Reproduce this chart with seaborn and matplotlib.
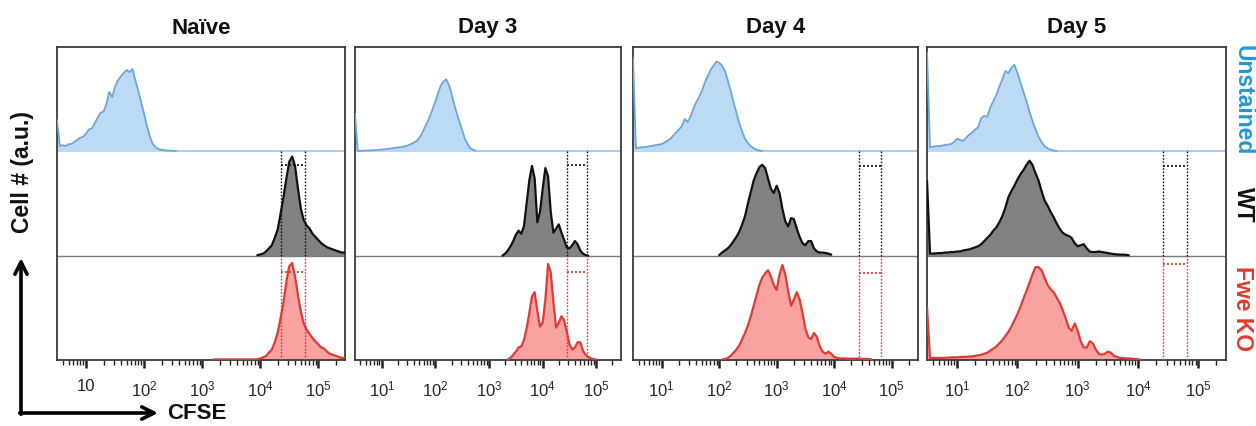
import numpy as np
import matplotlib
matplotlib.use("Agg")
import matplotlib.pyplot as plt
import seaborn as sns

# ---------------- data ----------------
PANELS = ["Naïve", "Day 3", "Day 4", "Day 5"]
CONDITIONS = ["Unstained", "WT", "Fwe KO"]
BIN_STEP = 0.05  # histogram bin width in log10(CFSE)

# each histogram: first bin (log10 CFSE) and cell counts, normalised to the row height
NAIVE_UNST_START = 0.50
NAIVE_UNST = [0.30, 0.05, 0.06, 0.05, 0.07, 0.07, 0.09, 0.11, 0.13, 0.14, 0.17, 0.21, 0.22, 0.27,
              0.32, 0.37, 0.38, 0.45, 0.57, 0.52, 0.62, 0.68, 0.72, 0.75, 0.78, 0.76, 0.79, 0.68,
              0.58, 0.47, 0.36, 0.24, 0.14, 0.07, 0.04, 0.02, 0.015, 0.01, 0.008, 0.006, 0.005, 0.003]
NAIVE_WT_START = 3.95
NAIVE_WT = [0.005, 0.012, 0.02, 0.04, 0.07, 0.10, 0.17, 0.25, 0.40, 0.56, 0.74, 0.90, 0.95, 0.86,
            0.64, 0.45, 0.34, 0.29, 0.26, 0.21, 0.18, 0.15, 0.12, 0.10, 0.08, 0.07, 0.06, 0.05,
            0.04, 0.03, 0.03]
NAIVE_KO_START = 3.20
NAIVE_KO = [0.006, 0.006, 0.006, 0.006, 0.006, 0.006, 0.006, 0.006, 0.006, 0.006, 0.006, 0.006,
            0.006, 0.006, 0.006, 0.006,
            0.015, 0.025, 0.04, 0.07, 0.10, 0.17, 0.26, 0.40, 0.55, 0.75, 0.90, 0.93, 0.80, 0.62,
            0.46, 0.35, 0.29, 0.25, 0.21, 0.18, 0.15, 0.12, 0.11, 0.08, 0.06, 0.05, 0.04, 0.03,
            0.02, 0.02]

DAY3_UNST_START = 0.50
DAY3_UNST = [0.36, 0.005, 0.005, 0.006, 0.007, 0.008, 0.01, 0.01, 0.012, 0.014, 0.016, 0.02, 0.022,
             0.025, 0.03, 0.033, 0.037, 0.04, 0.045, 0.05, 0.06, 0.07, 0.085, 0.10, 0.13, 0.17,
             0.23, 0.28, 0.34, 0.41, 0.48, 0.56, 0.63, 0.67, 0.69, 0.64, 0.55, 0.45, 0.36, 0.28,
             0.20, 0.12, 0.07, 0.03, 0.015, 0.005]
DAY3_WT_START = 3.25
DAY3_WT = [0.0, 0.02, 0.05, 0.09, 0.14, 0.20, 0.24, 0.21, 0.28, 0.50, 0.72, 0.86, 0.74, 0.32, 0.42,
           0.64, 0.84, 0.76, 0.42, 0.22, 0.26, 0.30, 0.22, 0.15, 0.08, 0.07, 0.10, 0.14, 0.11,
           0.05, 0.02, 0.005, 0.0]
DAY3_KO_START = 3.35
DAY3_KO = [0.005, 0.02, 0.05, 0.08, 0.12, 0.13, 0.19, 0.30, 0.45, 0.61, 0.65, 0.47, 0.32, 0.36,
           0.58, 0.92, 0.84, 0.55, 0.31, 0.36, 0.42, 0.38, 0.27, 0.15, 0.10, 0.12, 0.17, 0.17,
           0.09, 0.05, 0.03, 0.015, 0.008, 0.003]

DAY4_UNST_START = 0.50
DAY4_UNST = [0.90, 0.03, 0.035, 0.04, 0.04, 0.045, 0.05, 0.055, 0.06, 0.065, 0.07, 0.085, 0.10,
             0.12, 0.15, 0.18, 0.21, 0.24, 0.31, 0.28, 0.33, 0.41, 0.47, 0.52, 0.58, 0.66, 0.72,
             0.78, 0.82, 0.86, 0.85, 0.82, 0.77, 0.68, 0.58, 0.47, 0.37, 0.27, 0.19, 0.12, 0.08,
             0.05, 0.03, 0.015, 0.007, 0.003]
DAY4_WT_START = 2.00
DAY4_WT = [0.005, 0.03, 0.05, 0.07, 0.10, 0.14, 0.18, 0.23, 0.30, 0.38, 0.50, 0.61, 0.72, 0.79,
           0.85, 0.87, 0.84, 0.74, 0.64, 0.60, 0.67, 0.60, 0.45, 0.33, 0.28, 0.36, 0.35, 0.26,
           0.18, 0.12, 0.10, 0.14, 0.14, 0.07, 0.04, 0.03, 0.03, 0.025, 0.02, 0.01]
DAY4_KO_START = 2.05
DAY4_KO = [0.005, 0.01, 0.02, 0.04, 0.07, 0.10, 0.14, 0.20, 0.26, 0.33, 0.42, 0.52, 0.62, 0.72,
           0.79, 0.83, 0.86, 0.80, 0.72, 0.67, 0.82, 0.91, 0.82, 0.66, 0.52, 0.58, 0.65, 0.58,
           0.45, 0.30, 0.22, 0.20, 0.26, 0.22, 0.13, 0.08, 0.06, 0.08, 0.06, 0.03, 0.02, 0.015,
           0.015, 0.015, 0.012, 0.012, 0.012, 0.015, 0.012, 0.01, 0.01, 0.01, 0.005]

DAY5_UNST_START = 0.50
DAY5_UNST = [0.95, 0.04, 0.045, 0.05, 0.05, 0.055, 0.06, 0.065, 0.07, 0.09, 0.12, 0.11, 0.10, 0.13,
             0.16, 0.18, 0.21, 0.23, 0.32, 0.34, 0.33, 0.42, 0.48, 0.54, 0.62, 0.69, 0.77, 0.75,
             0.80, 0.83, 0.75, 0.66, 0.57, 0.48, 0.38, 0.29, 0.21, 0.14, 0.09, 0.05, 0.03, 0.015,
             0.007, 0.003]
DAY5_WT_START = 0.50
DAY5_WT = [0.72, 0.02, 0.02, 0.022, 0.025, 0.025, 0.03, 0.03, 0.035, 0.035, 0.04, 0.04, 0.05,
           0.055, 0.06, 0.07, 0.08, 0.09, 0.11, 0.14, 0.17, 0.20, 0.24, 0.27, 0.32, 0.38, 0.46,
           0.56, 0.62, 0.67, 0.73, 0.78, 0.82, 0.87, 0.91, 0.87, 0.79, 0.72, 0.62, 0.53, 0.48,
           0.42, 0.37, 0.31, 0.26, 0.22, 0.20, 0.19, 0.17, 0.12, 0.09, 0.10, 0.11, 0.07, 0.04,
           0.035, 0.035, 0.04, 0.035, 0.03, 0.025, 0.02, 0.015, 0.012, 0.01, 0.01, 0.008, 0.004]
DAY5_KO_START = 0.50
DAY5_KO = [0.51, 0.02, 0.02, 0.02, 0.02, 0.02, 0.022, 0.022, 0.025, 0.025, 0.025, 0.028, 0.03,
           0.03, 0.032, 0.035, 0.04, 0.045, 0.05, 0.06, 0.07, 0.09, 0.11, 0.13, 0.16, 0.19, 0.23,
           0.27, 0.32, 0.38, 0.44, 0.51, 0.59, 0.66, 0.74, 0.82, 0.89, 0.89, 0.86, 0.79, 0.72,
           0.68, 0.65, 0.60, 0.55, 0.48, 0.40, 0.31, 0.28, 0.35, 0.28, 0.18, 0.12, 0.12, 0.18,
           0.16, 0.10, 0.06, 0.05, 0.06, 0.08, 0.07, 0.04, 0.03, 0.02, 0.018, 0.015, 0.015,
           0.012, 0.01, 0.006, 0.003]

# proliferation gates (log10 CFSE) and height of their top bar in each row
GATE_LO = [4.35, 4.45, 4.43, 4.41]
GATE_HI = [4.77, 4.83, 4.81, 4.82]
GATE_TOP_WT = [0.87, 0.87, 0.86, 0.855]
GATE_TOP_KO = [0.845, 0.84, 0.83, 0.92]

TICK_VALUES = [1e1, 1e2, 1e3, 1e4, 1e5]
TICK_LABELS_NAIVE = ["10", "10$^{2}$", "10$^{3}$", "10$^{4}$", "10$^{5}$"]
TICK_LABELS = ["10$^{1}$", "10$^{2}$", "10$^{3}$", "10$^{4}$", "10$^{5}$"]

HISTS = {
    "Naïve": {"Unstained": (NAIVE_UNST_START, NAIVE_UNST), "WT": (NAIVE_WT_START, NAIVE_WT),
              "Fwe KO": (NAIVE_KO_START, NAIVE_KO)},
    "Day 3": {"Unstained": (DAY3_UNST_START, DAY3_UNST), "WT": (DAY3_WT_START, DAY3_WT),
              "Fwe KO": (DAY3_KO_START, DAY3_KO)},
    "Day 4": {"Unstained": (DAY4_UNST_START, DAY4_UNST), "WT": (DAY4_WT_START, DAY4_WT),
              "Fwe KO": (DAY4_KO_START, DAY4_KO)},
    "Day 5": {"Unstained": (DAY5_UNST_START, DAY5_UNST), "WT": (DAY5_WT_START, DAY5_WT),
              "Fwe KO": (DAY5_KO_START, DAY5_KO)},
}

# ---------------- style / layout ----------------
sns.set_theme(style="white")
plt.rcParams["font.family"] = ["Liberation Sans", "DejaVu Sans"]
plt.rcParams["mathtext.default"] = "regular"

STYLE = {
    "Unstained": dict(fill="#bcdaf3", edge="#6aa6da", lw=1.3, offset=2, label="#1f9ad6"),
    "WT": dict(fill="#828282", edge="#111111", lw=1.6, offset=1, label="#111111"),
    "Fwe KO": dict(fill="#f9a2a2", edge="#df3b35", lw=1.6, offset=0, label="#e33b2e"),
}
W, H = 1256, 427
PANEL_X = [(57, 345), (355, 621), (633, 918), (927, 1226)]
TOP_PX, BOT_PX = 48, 361
XMIN, XMAX = 10 ** 0.50, 10 ** 5.46

fig = plt.figure(figsize=(W / 100, H / 100), dpi=100)
fig.patch.set_facecolor("white")

minor = [m * 10.0 ** d for d in range(0, 6) for m in range(2, 10)]
minor = [v for v in minor if XMIN < v < XMAX]

for i, panel in enumerate(PANELS):
    x0, x1 = PANEL_X[i]
    ax = fig.add_axes([x0 / W, 1 - BOT_PX / H, (x1 - x0) / W, (BOT_PX - TOP_PX) / H])
    ax.set_xscale("log")
    ax.set_xlim(XMIN, XMAX)
    ax.set_ylim(0, 3)
    ax.set_facecolor("white")

    # row baselines
    ax.axhline(2, color="#a9cbe9", lw=1.4, zorder=1)
    ax.axhline(1, color="#7a7a7a", lw=1.0, zorder=1)

    for cond in CONDITIONS:
        st = STYLE[cond]
        start, vals = HISTS[panel][cond]
        logx = start + BIN_STEP * np.arange(len(vals))
        x = 10 ** logx
        y = st["offset"] + np.asarray(vals)
        ax.fill_between(x, st["offset"], y, color=st["fill"], lw=0, zorder=2)
        sns.lineplot(x=x, y=y, ax=ax, color=st["edge"], lw=st["lw"], estimator=None,
                     sort=False, zorder=3)

    # gates
    lo, hi = 10 ** GATE_LO[i], 10 ** GATE_HI[i]
    dot = (0, (1.2, 1.2))
    ax.vlines([lo, hi], 1, 2, colors="#111111", linestyles=dot, lw=1.0, zorder=4)
    ax.hlines(1 + GATE_TOP_WT[i], lo, hi, colors="#111111", linestyles=dot, lw=1.2, zorder=4)
    ax.vlines([lo, hi], 0, 1, colors="#d8352e", linestyles=dot, lw=1.0, zorder=4)
    ax.hlines(GATE_TOP_KO[i], lo, hi, colors="#d8352e", linestyles=dot, lw=1.2, zorder=4)

    for s in ax.spines.values():
        s.set_visible(True)
        s.set_color("#3a3a3a")
        s.set_linewidth(1.3)

    ax.set_yticks([])
    ax.set_xticks(TICK_VALUES)
    ax.set_xticklabels(TICK_LABELS_NAIVE if i == 0 else TICK_LABELS)
    ax.set_xticks(minor, minor=True)
    ax.xaxis.set_minor_formatter(matplotlib.ticker.NullFormatter())
    ax.tick_params(axis="x", which="major", direction="out", length=6, width=1.8,
                   color="#222222", labelsize=12, pad=7, bottom=True)
    ax.tick_params(axis="x", which="minor", direction="out", length=3.5, width=1.0,
                   color="#222222", bottom=True)
    ax.set_xlabel("")
    ax.set_ylabel("")

    fig.text((x0 + x1) / 2 / W, 1 - 28 / H, panel, ha="center", va="center",
             fontsize=16, fontweight="bold", color="#111111")

# row labels on the right
row_h = (BOT_PX - TOP_PX) / 3
for cond in CONDITIONS:
    st = STYLE[cond]
    cy = TOP_PX + (2 - st["offset"] + 0.5) * row_h
    fig.text(1243 / W, 1 - cy / H, cond, rotation=-90, ha="center", va="center",
             fontsize=16.5, fontweight="bold", color=st["label"])

# axis arrows
arrow_kw = dict(arrowstyle="->", lw=2.6, color="black", mutation_scale=22,
                shrinkA=0, shrinkB=0)
fig.add_artist(matplotlib.patches.FancyArrowPatch((21 / W, 1 - 415.3 / H), (21 / W, 1 - 259 / H),
                                                  transform=fig.transFigure, **arrow_kw))
fig.add_artist(matplotlib.patches.FancyArrowPatch((19.7 / W, 1 - 414 / H), (158 / W, 1 - 414 / H),
                                                  transform=fig.transFigure, **arrow_kw))
fig.text(22 / W, 1 - 172 / H, "Cell # (a.u.)", rotation=90, ha="center", va="center",
         fontsize=16.5, fontweight="bold", color="#111111")
fig.text(167 / W, 1 - 414 / H, "CFSE", ha="left", va="center",
         fontsize=16, fontweight="bold", color="#111111")

fig.savefig("out.png", dpi=100, facecolor="white")
